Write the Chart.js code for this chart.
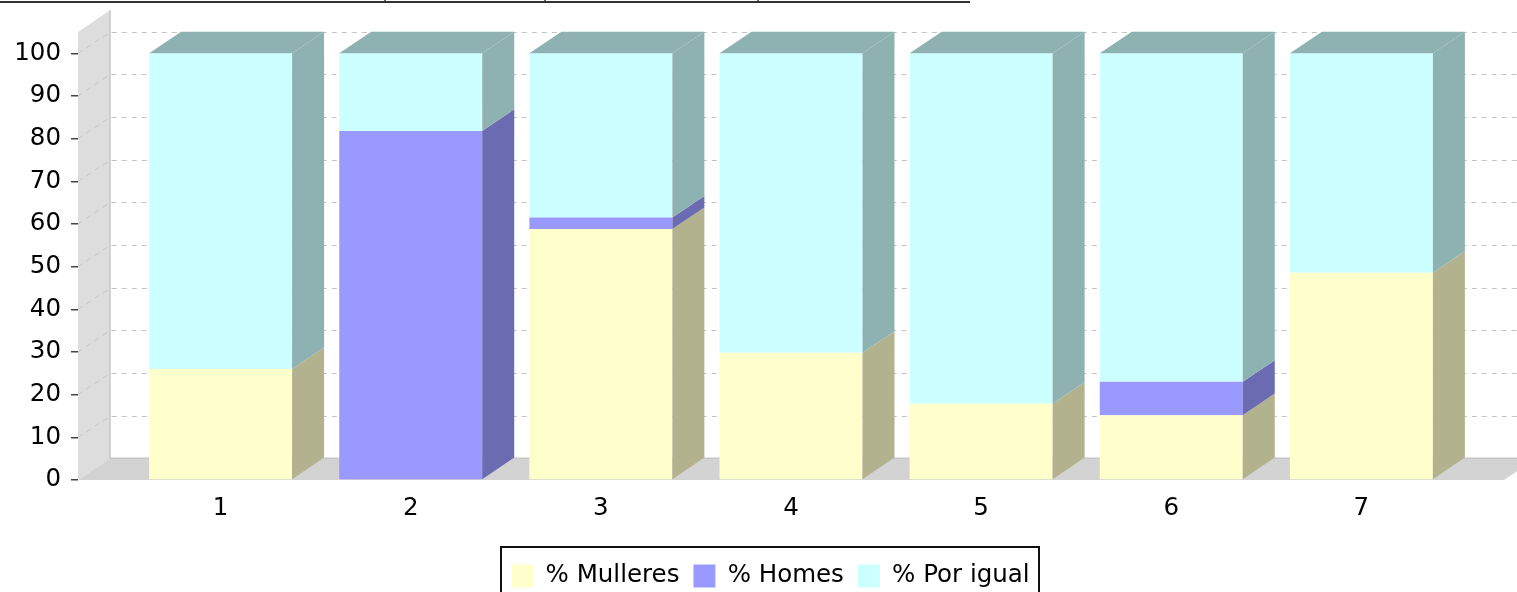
<!DOCTYPE html>
<html><head><meta charset="utf-8">
<script src="https://cdn.jsdelivr.net/npm/chart.js@4.4.0/dist/chart.umd.min.js"></script>
<style>html,body{margin:0;padding:0;background:#fff;overflow:hidden}canvas{display:block}</style>
</head><body>
<canvas id="c" width="1517" height="592"></canvas>
<script>
// ---- data ----
const categories = ['1', '2', '3', '4', '5', '6', '7'];
const seriesNames = ['% Mulleres', '% Homes', '% Por igual'];
const mulleres = [26, 0, 58.8, 29.8, 17.9, 15.2, 48.6];
const homes    = [0, 81.8, 2.7, 0, 0, 7.8, 0];
const porIgual = [74, 18.2, 38.5, 70.2, 82.1, 77.0, 51.4];
const yTicks = [0, 10, 20, 30, 40, 50, 60, 70, 80, 90, 100];
const yTickLabels = ['0', '10', '20', '30', '40', '50', '60', '70', '80', '90', '100'];

// ---- style ----
const FONT = 'DejaVu Sans';
const FONT_SIZE = 24.5;
const DX = 32, DY = 21.7;
const frontColors = ['#FFFFCC', '#9999FF', '#CCFFFF'];
const darkColors  = ['#B2B28E', '#6B6BB2', '#8EB2B2'];

const seriesValues = [mulleres, homes, porIgual];

const threeD = {
  id: 'threeD',
  beforeDatasetsDraw(chart) {
    const ctx = chart.ctx, a = chart.chartArea, y = chart.scales.y;
    const L = a.left, R = a.right, T = a.top, B = a.bottom;
    ctx.save();
    // left wall
    ctx.fillStyle = '#DDDDDD';
    ctx.beginPath();
    ctx.moveTo(L, B); ctx.lineTo(L, T); ctx.lineTo(L + DX, T - DY); ctx.lineTo(L + DX, B - DY);
    ctx.closePath(); ctx.fill();
    // floor
    ctx.fillStyle = '#D3D3D3';
    ctx.beginPath();
    ctx.moveTo(L, B); ctx.lineTo(L + DX, B - DY); ctx.lineTo(R + DX, B - DY); ctx.lineTo(R, B);
    ctx.closePath(); ctx.fill();
    // back edges
    ctx.strokeStyle = '#C6C6C6'; ctx.lineWidth = 1.5;
    ctx.beginPath();
    ctx.moveTo(L + DX, T - DY); ctx.lineTo(L + DX, B - DY); ctx.lineTo(R + DX, B - DY);
    ctx.stroke();
    // dashed gridlines on wall and back plane
    ctx.strokeStyle = '#C4C4C4'; ctx.lineWidth = 1; ctx.setLineDash([5, 5]);
    y.ticks.forEach(t => {
      if (t.value === 0) return;
      const py = y.getPixelForValue(t.value);
      const by = Math.round(py - DY) + 0.5;
      ctx.beginPath();
      ctx.moveTo(L, py); ctx.lineTo(L + DX, by);
      ctx.lineTo(R + DX, by);
      ctx.stroke();
    });
    ctx.restore();
  },
  afterDatasetsDraw(chart) {
    const ctx = chart.ctx;
    ctx.save();
    for (let j = 0; j < categories.length; j++) {
      let topEl = null, topIdx = -1;
      chart.data.datasets.forEach((ds, i) => {
        const el = chart.getDatasetMeta(i).data[j];
        if (!el) return;
        const p = el.getProps(['x', 'y', 'base', 'width'], true);
        if (Math.abs(p.base - p.y) < 0.5) return;
        const r = p.x + p.width / 2;
        ctx.fillStyle = darkColors[i];
        ctx.beginPath();
        ctx.moveTo(r, p.y); ctx.lineTo(r + DX, p.y - DY); ctx.lineTo(r + DX, p.base - DY); ctx.lineTo(r, p.base);
        ctx.closePath(); ctx.fill();
        topEl = p; topIdx = i;
      });
      if (topEl) {
        const l = topEl.x - topEl.width / 2, r = topEl.x + topEl.width / 2;
        ctx.fillStyle = darkColors[topIdx];
        ctx.beginPath();
        ctx.moveTo(l, topEl.y); ctx.lineTo(l + DX, topEl.y - DY); ctx.lineTo(r + DX, topEl.y - DY); ctx.lineTo(r, topEl.y);
        ctx.closePath(); ctx.fill();
      }
    }
    ctx.restore();
  },
  afterDraw(chart) {
    const ctx = chart.ctx, lg = chart.legend;
    ctx.save();
    if (lg && lg.legendHitBoxes && lg.legendHitBoxes.length) {
      const hb = lg.legendHitBoxes;
      const x0 = hb[0].left - 10;
      const last = hb[hb.length - 1];
      const x1 = last.left + last.width + 10;
      ctx.strokeStyle = '#111'; ctx.lineWidth = 2;
      ctx.strokeRect(Math.round(x0), Math.round(lg.top - 2.5), Math.round(x1 - x0), 70);
    }
    // stray page border line at the very top
    ctx.strokeStyle = '#333'; ctx.lineWidth = 2;
    ctx.beginPath(); ctx.moveTo(0, 2); ctx.lineTo(970, 2); ctx.stroke();
    ctx.lineWidth = 1.5;
    [385, 545, 758].forEach(x => { ctx.beginPath(); ctx.moveTo(x, 0); ctx.lineTo(x, 3); ctx.stroke(); });
    ctx.restore();
  }
};

const datasets = seriesValues.map((vals, i) => ({
  label: seriesNames[i],
  data: vals.map((v, k) => ({ x: k, y: v })),
  backgroundColor: frontColors[i],
  borderColor: frontColors[i],
  borderWidth: 0,
  barPercentage: 0.752,
  categoryPercentage: 1.0
}));

new Chart(document.getElementById('c'), {
  type: 'bar',
  data: { datasets },
  plugins: [threeD],
  options: {
    responsive: false,
    animation: false,
    devicePixelRatio: 1,
    layout: { padding: { top: 32, bottom: -6.25, left: 37, right: 13 } },
    plugins: {
      tooltip: { enabled: false },
      legend: {
        position: 'bottom',
        labels: {
          font: { family: FONT, size: FONT_SIZE },
          color: '#000',
          boxWidth: 22,
          boxHeight: 23,
          padding: 14
        }
      }
    },
    scales: {
      x: {
        type: 'linear',
        min: -0.75,
        max: 6.75,
        offset: false,
        stacked: true,
        grid: { display: false, drawTicks: false, offset: false },
        border: { display: false },
        afterBuildTicks: s => { s.ticks = categories.map((c, i) => ({ value: i })); },
        afterFit: s => { s.height = 69.75; },
        ticks: {
          autoSkip: false, maxRotation: 0, padding: 14,
          font: { family: FONT, size: FONT_SIZE }, color: '#000',
          callback: v => categories[v]
        }
      },
      y: {
        type: 'linear',
        min: 0,
        max: 105,
        stacked: true,
        border: { display: false },
        grid: { drawOnChartArea: false, drawTicks: true, tickLength: 7, color: '#444', lineWidth: 1.5 },
        afterBuildTicks: s => { s.ticks = yTicks.map(v => ({ value: v })); },
        afterFit: s => {
          s.width = 41;
          // let the tick labels extend left of the narrowed axis box without clipping
          s._computeLabelArea = () => undefined;
        },
        ticks: {
          padding: 10,
          font: { family: FONT, size: FONT_SIZE }, color: '#000',
          callback: (v) => yTickLabels[yTicks.indexOf(v)]
        }
      }
    }
  }
});
</script>
</body></html>
